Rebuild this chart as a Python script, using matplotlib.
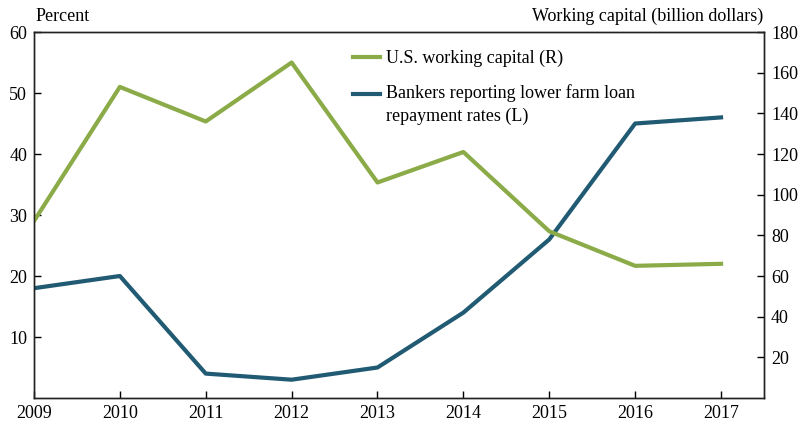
import matplotlib.pyplot as plt
from matplotlib.legend_handler import HandlerLine2D

plt.rcParams['font.family'] = ['Liberation Serif', 'DejaVu Serif']

YEARS = [2009, 2010, 2011, 2012, 2013, 2014, 2015, 2016, 2017]
# Bankers reporting lower farm loan repayment rates, percent (left axis)
LOWER_REPAYMENT = [18, 20, 4, 3, 5, 14, 26, 45, 46]
# U.S. working capital, billion dollars (right axis)
WORKING_CAPITAL = [87, 153, 136, 165, 106, 121, 82, 65, 66]

GREEN = '#8aab47'
BLUE = '#215a73'
FS = 13


class TopLineHandler(HandlerLine2D):
    # put the legend line next to the first line of a two-line label
    def __init__(self, shift, **kw):
        super().__init__(**kw)
        self.shift = shift

    def create_artists(self, legend, orig_handle, xdescent, ydescent,
                       width, height, fontsize, trans):
        arts = super().create_artists(legend, orig_handle, xdescent, ydescent,
                                      width, height, fontsize, trans)
        for a in arts:
            a.set_ydata([y + self.shift for y in a.get_ydata()])
        return arts


fig = plt.figure(figsize=(8.03, 4.23), dpi=100)
ax = fig.add_axes([0.0423, 0.0591, 0.9091, 0.8652])
ax2 = ax.twinx()

l1, = ax2.plot(YEARS, WORKING_CAPITAL, color=GREEN, lw=3.0, label='U.S. working capital (R)')
l2, = ax.plot(YEARS, LOWER_REPAYMENT, color=BLUE, lw=3.0,
              label='Bankers reporting lower farm loan\nrepayment rates (L)')

ax.set_xlim(2009, 2017.5)
ax.set_ylim(0, 60)
ax2.set_ylim(0, 180)
ax.set_xticks(YEARS)
ax.set_yticks([10, 20, 30, 40, 50, 60])
ax2.set_yticks([20, 40, 60, 80, 100, 120, 140, 160, 180])

for a in (ax, ax2):
    for s in a.spines.values():
        s.set_linewidth(1.0)
        s.set_color('#222222')
ax.tick_params(direction='in', length=5, width=1, labelsize=FS, pad=5)
ax2.tick_params(direction='in', length=5, width=1, labelsize=FS, pad=5)

fig.text(0.044, 0.942, 'Percent', fontsize=FS, ha='left', va='bottom')
fig.text(0.950, 0.942, 'Working capital (billion dollars)', fontsize=FS, ha='right', va='bottom')

leg = ax2.legend([l1, l2], [l1.get_label(), l2.get_label()], loc='upper left',
                 bbox_to_anchor=(0.415, 0.995), frameon=False, fontsize=FS,
                 handlelength=1.5, handletextpad=0.3, labelspacing=0.95,
                 handler_map={l2: TopLineHandler(shift=FS * 0.62)})
for t in leg.get_texts():
    t.set_linespacing(1.4)

fig.savefig('out.png', dpi=100)
